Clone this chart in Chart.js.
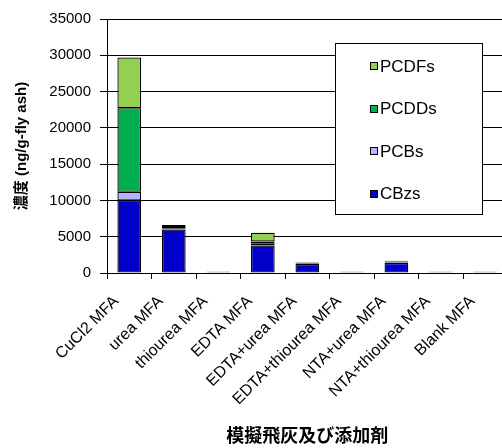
<!DOCTYPE html>
<html>
<head>
<meta charset="utf-8">
<script src="https://cdn.jsdelivr.net/npm/chart.js@4"></script>
<style>
  html, body { margin: 0; padding: 0; overflow: hidden; background: #fff; }
  #wrap { width: 512px; height: 448px; position: relative; }
</style>
</head>
<body>
<div id="wrap"><canvas id="c"></canvas></div>
<script>
// Sample categories (simulated fly ash + additive)
const categories = ['CuCl2 MFA', 'urea MFA', 'thiourea MFA', 'EDTA MFA', 'EDTA+urea MFA',
  'EDTA+thiourea MFA', 'NTA+urea MFA', 'NTA+thiourea MFA', 'Blank MFA'];

// Concentrations, ng/g-fly ash
const cbzs  = [10000, 6000, 120, 3800, 1250, 120, 1400, 110, 120];
const pcbs  = [1200, 100, 30, 300, 50, 30, 80, 30, 30];
const pcdds = [11500, 250, 30, 250, 80, 30, 100, 30, 30];
const pcdfs = [7000, 250, 30, 1200, 60, 30, 100, 30, 30];

const yTicks = [0, 5000, 10000, 15000, 20000, 25000, 30000, 35000];

const FONT = "'Liberation Sans', Arial, 'Noto Sans CJK JP', sans-serif";
const CJK = "'Liberation Sans', 'Noto Sans CJK JP', sans-serif";

const series = [
  { label: 'CBzs',  data: cbzs,  color: '#0000C8' },
  { label: 'PCBs',  data: pcbs,  color: '#B3B3FF' },
  { label: 'PCDDs', data: pcdds, color: '#00B050' },
  { label: 'PCDFs', data: pcdfs, color: '#92D050' }
];

// Boxed legend inside the plot, listed top-down from the last stacked series
const boxLegend = {
  id: 'boxLegend',
  afterDraw(chart) {
    const ctx = chart.ctx;
    const x0 = 335.5, y0 = 43.5, w = 147, h = 171;
    ctx.save();
    ctx.fillStyle = '#fff';
    ctx.fillRect(x0, y0, w, h);
    ctx.strokeStyle = '#000';
    ctx.lineWidth = 1;
    ctx.strokeRect(x0, y0, w, h);
    const ds = chart.data.datasets.slice().reverse();
    ctx.font = '17px ' + FONT;
    ctx.textBaseline = 'middle';
    ctx.textAlign = 'left';
    ds.forEach((d, i) => {
      const cy = 66 + i * 42.6;
      ctx.fillStyle = d.backgroundColor;
      ctx.fillRect(370.5, Math.round(cy) - 3.5, 7, 7);
      ctx.strokeStyle = '#000';
      ctx.strokeRect(370.5, Math.round(cy) - 3.5, 7, 7);
      ctx.fillStyle = '#000';
      ctx.fillText(d.label, 380, cy + 1);
    });
    ctx.restore();
  }
};

new Chart(document.getElementById('c'), {
  type: 'bar',
  data: {
    labels: categories,
    datasets: series.map(s => ({
      label: s.label,
      data: s.data,
      backgroundColor: s.color,
      borderColor: '#000',
      borderWidth: 1.3,
      borderSkipped: false,
      barPercentage: 0.533,
      categoryPercentage: 1
    }))
  },
  options: {
    responsive: true,
    maintainAspectRatio: false,
    animation: false,
    devicePixelRatio: 1,
    layout: { padding: { top: 19, left: 0, right: 0, bottom: 0 } },
    plugins: { legend: { display: false }, tooltip: { enabled: false } },
    scales: {
      x: {
        stacked: true,
        afterFit(s) { s.height = 175; },
        grid: { offset: true, drawOnChartArea: false, color: '#000', tickLength: 6 },
        border: { color: '#000', width: 1 },
        ticks: {
          font: { family: FONT, size: 16 },
          color: '#000',
          minRotation: 45, maxRotation: 45,
          padding: 13,
          labelOffset: -13,
          autoSkip: false
        },
        title: {
          display: true,
          text: '模擬飛灰及び添加剤',
          font: { family: CJK, size: 18, weight: 'bold' },
          color: '#000',
          padding: { top: 0, bottom: 0 }
        }
      },
      y: {
        stacked: true,
        min: 0,
        max: 35000,
        afterFit(s) { s.width = 107; },
        afterBuildTicks(s) { s.ticks = yTicks.map(v => ({ value: v })); },
        grid: { color: '#000', lineWidth: 1, tickLength: 7 },
        border: { color: '#000', width: 1 },
        ticks: {
          font: { family: FONT, size: 15 },
          color: '#000',
          padding: 9,
          callback: v => String(v)
        },
        title: {
          display: true,
          text: '濃度 (ng/g-fly ash)',
          font: { family: CJK, size: 15, weight: 'bold' },
          color: '#000',
          padding: { top: 13, bottom: 0 }
        }
      }
    }
  },
  plugins: [boxLegend]
});
</script>
</body>
</html>
